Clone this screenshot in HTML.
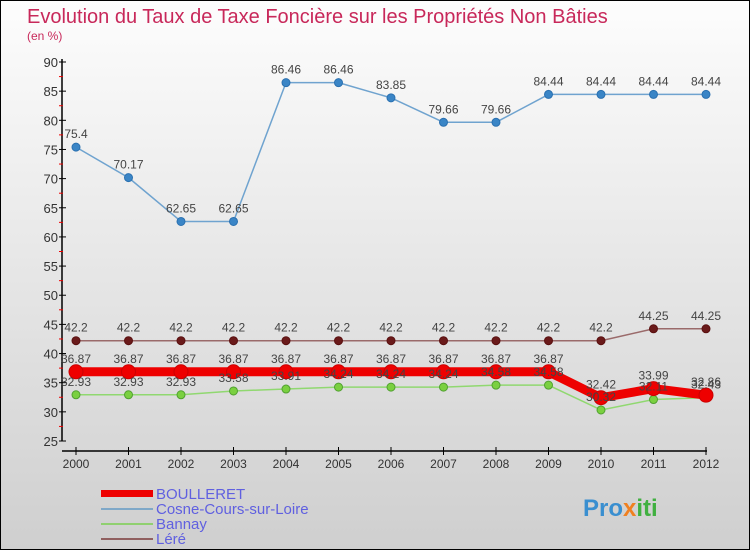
<!DOCTYPE html>
<html><head><meta charset="utf-8"><style>
body{margin:0;width:750px;height:550px;overflow:hidden;font-family:"Liberation Sans",sans-serif}
#wrap{position:relative;width:748px;height:548px;border:1px solid #000;background:linear-gradient(#fdfdfd,#cfcfcf)}
</style></head><body>
<div id="wrap">
<svg id="svg" width="748" height="548" xmlns="http://www.w3.org/2000/svg">
<text x="26" y="22" font-size="20" fill="#c8285a">Evolution du Taux de Taxe Foncière sur les Propriétés Non Bâties</text>
<text x="26" y="39" font-size="12" fill="#c8285a">(en %)</text>
<g id="axes"></g><g id="series"></g><g id="labels"></g>
<g>
<rect x="100" y="489" width="52" height="7" fill="#e00"/>
<text x="155" y="498" font-size="15" fill="#6060e0">BOULLERET</text>
<rect x="100" y="507" width="52" height="2" fill="#7fa8c8"/>
<text x="155" y="513" font-size="15" fill="#6060e0">Cosne-Cours-sur-Loire</text>
<rect x="100" y="522" width="52" height="2" fill="#90d070"/>
<text x="155" y="528" font-size="15" fill="#6060e0">Bannay</text>
<rect x="100" y="537" width="52" height="2" fill="#906060"/>
<text x="155" y="543" font-size="15" fill="#6060e0">Léré</text>
</g>
<text x="582" y="515" font-size="24" font-weight="bold" fill="#3a8fd0">Pro<tspan fill="#f08020">x</tspan><tspan fill="#40b040">iti</tspan></text>
</svg></div>
<script>
const years=[2000,2001,2002,2003,2004,2005,2006,2007,2008,2009,2010,2011,2012];
const yTicks=[25,30,35,40,45,50,55,60,65,70,75,80,85,90];
const boulleret=[36.87,36.87,36.87,36.87,36.87,36.87,36.87,36.87,36.87,36.87,32.42,33.99,32.86];
const cosne=[75.4,70.17,62.65,62.65,86.46,86.46,83.85,79.66,79.66,84.44,84.44,84.44,84.44];
const bannay=[32.93,32.93,32.93,33.58,33.91,34.24,34.24,34.24,34.58,34.58,30.32,32.11,32.43];
const lere=[42.2,42.2,42.2,42.2,42.2,42.2,42.2,42.2,42.2,42.2,42.2,44.25,44.25];
const NS="http://www.w3.org/2000/svg";
const X=i=>75+i*(705-75)/(years.length-1);
const Y=v=>440-(v-25)*(440-61)/65;
function mk(tag,attrs,parent){const e=document.createElementNS(NS,tag);for(const k in attrs)e.setAttribute(k,attrs[k]);parent.appendChild(e);return e;}
const ax=document.getElementById('axes');
let a=mk('line',{x1:61,y1:58,x2:61,y2:440,stroke:'#000','stroke-width':1.5},ax);


a=mk('line',{x1:61,y1:450,x2:706,y2:450,stroke:'#000','stroke-width':1.5},ax);


yTicks.forEach(v=>{
 mk('line',{x1:58,y1:Y(v),x2:65,y2:Y(v),stroke:'#000'},ax);
 if(v<90) mk('line',{x1:58,y1:Y(v+2.5),x2:62,y2:Y(v+2.5),stroke:'#e00'},ax);
 const t=mk('text',{x:57,y:Y(v)+5,'font-size':13,'text-anchor':'end',fill:'#333'},ax);t.textContent=v;
 
 
});
years.forEach((yr,i)=>{
 mk('line',{x1:X(i),y1:446,x2:X(i),y2:454,stroke:'#000'},ax);
 const t=mk('text',{x:X(i),y:467,'font-size':12,'text-anchor':'middle',fill:'#333'},ax);t.textContent=yr;
 
 
});
const sg=document.getElementById('series');
const lg=document.getElementById('labels');
function series(name,vals,color,lw,r,fill,stroke){
 const g=mk('g',{},sg);
 
 
 mk('polyline',{points:vals.map((v,i)=>X(i)+','+Y(v)).join(' '),fill:'none',stroke:color,'stroke-width':lw,'stroke-linejoin':'round'},g);
 vals.forEach((v,i)=>{
  const c=mk('circle',{cx:X(i),cy:Y(v),r:r,fill:fill,stroke:stroke,'stroke-width':1},g);
  
  
  const t=mk('text',{x:X(i),y:Y(v)-9,'font-size':12,'text-anchor':'middle',fill:'#444'},lg);
  t.textContent=String(v);
  
  
 });
}
series('cosne',cosne,'#6fa3cf',1.5,4,'#3a85c6','#2a70b0');
series('lere',lere,'#9a6a6a',1.5,4,'#6a1a1a','#5a1010');
series('bannay',bannay,'#90d870',1.5,4,'#7ad040','#50a030');
series('boulleret',boulleret,'#ee0000',9,7,'#ee0000','#cc0000');
</script>
</body></html>
